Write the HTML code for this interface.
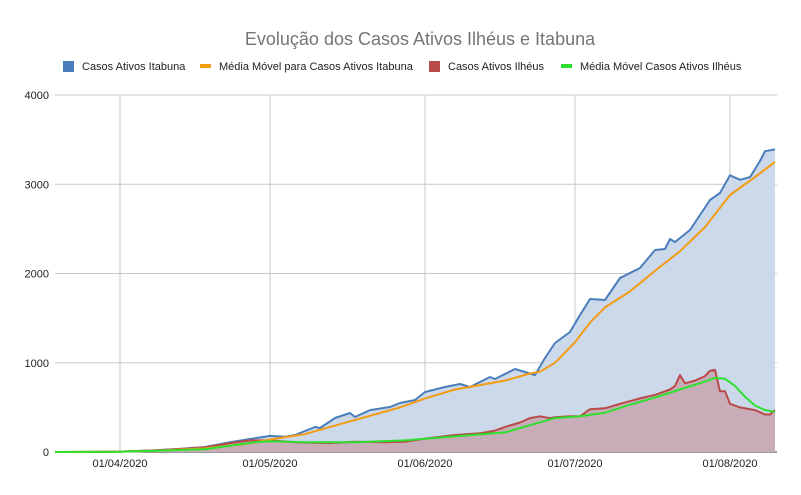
<!DOCTYPE html>
<html><head><meta charset="utf-8"><style>
body{margin:0;background:#fff;font-family:"Liberation Sans",sans-serif}
svg{display:block}
</style></head><body>
<svg id="chart" width="801" height="495">
<text x="420" y="45" text-anchor="middle" font-size="18" fill="#757575">Evolução dos Casos Ativos Ilhéus e Itabuna</text>
<g font-size="11" fill="#222">
<g><rect x="63" y="61" width="11" height="11" fill="#4a7ebb"/><text x="82" y="70">Casos Ativos Itabuna</text></g>
<g><rect x="200" y="64" width="11" height="4" fill="#f39c12"/><text x="219" y="70">Média Móvel para Casos Ativos Itabuna</text></g>
<g><rect x="429" y="61" width="11" height="11" fill="#b94a48"/><text x="448" y="70">Casos Ativos Ilhéus</text></g>
<g><rect x="561" y="64" width="11" height="4" fill="#2ee02e"/><text x="580" y="70">Média Móvel Casos Ativos Ilhéus</text></g>
</g>
<g id="grid"></g><g id="marks"></g><g id="axes"></g>
</svg>
<script>
const yTicks=[0,1000,2000,3000,4000];
const xTickLabels=["01/04/2020","01/05/2020","01/06/2020","01/07/2020","01/08/2020"];
const xTickDays=[13,43,74,104,135];
// day index 0 = 19/03/2020
const itabunaDays=[0,8,13,20,25,30,35,39,43,46,48,52,53,56,59,60,63,67,69,72,74,78,81,83,87,88,92,94,96,98,100,103,105,107,110,113,117,120,122,123,124,127,131,133,135,137,139,141,142,144];
const itabunaVals=[0,0,5,20,35,56,110,146,180,170,190,280,269,381,437,392,470,504,549,583,672,728,762,728,840,818,930,896,863,1053,1221,1345,1535,1714,1703,1950,2062,2263,2274,2387,2353,2487,2823,2902,3100,3050,3080,3260,3370,3390];
const itabunaMMDays=[0,13,20,30,38,43,50,60,69,74,80,90,95,97,100,104,107,110,115,120,125,130,135,140,144];
const itabunaMMVals=[0,3,15,40,90,140,200,360,500,600,700,800,880,900,1000,1230,1450,1620,1800,2030,2250,2520,2880,3080,3250];
const ilheusDays=[0,13,20,30,35,39,43,48,55,60,66,70,74,80,85,88,90,93,95,97,99,100,103,105,107,110,113,117,120,123,124,125,126,128,130,131,132,133,134,135,137,140,142,143,144];
const ilheusVals=[0,4,18,50,100,130,130,110,100,115,110,115,150,190,210,240,280,330,380,400,380,390,400,400,480,490,540,600,640,700,740,860,770,800,850,910,920,680,680,540,500,470,420,420,470];
const ilheusMMDays=[0,13,20,30,35,40,43,50,60,70,80,90,95,100,105,110,115,120,125,130,132,134,136,138,140,142,144];
const ilheusMMVals=[0,3,15,30,70,110,120,110,110,130,175,220,300,380,400,440,530,610,700,790,830,820,740,620,520,470,450];

const X0=55,PX=5,Y0=452,YS=357/4000,XEND=777;
const xs=d=>X0+d*PX, ys=v=>Y0-v*YS;
const NS="http://www.w3.org/2000/svg";
function mk(tag,parent,attrs){const e=document.createElementNS(NS,tag);for(const k in attrs)e.setAttribute(k,attrs[k]);parent.appendChild(e);return e;}
const grid=document.getElementById('grid'),marks=document.getElementById('marks'),axes=document.getElementById('axes');
yTicks.forEach(t=>{
  const l=mk('line',grid,{x1:X0,x2:XEND,y1:ys(t),y2:ys(t),stroke:t===0?'#333':'#c8c8c8','stroke-width':1});
  
  
  const tx=mk('text',axes,{x:49,y:ys(t)+4,'text-anchor':'end','font-size':11,fill:'#222'});tx.textContent=t;
  
  
});
xTickDays.forEach((d,i)=>{
  const l=mk('line',grid,{x1:xs(d),x2:xs(d),y1:95,y2:Y0,stroke:'#c8c8c8','stroke-width':1});
  
  
  const tx=mk('text',axes,{x:xs(d),y:467,'text-anchor':'middle','font-size':11,fill:'#222'});tx.textContent=xTickLabels[i];
  
  
});
function pts(days,vals){return days.map((d,i)=>xs(d).toFixed(1)+','+ys(vals[i]).toFixed(1)).join(' ');}
function area(days,vals,fill,name){
  const p=pts(days,vals)+' '+xs(days[days.length-1])+','+Y0+' '+xs(days[0])+','+Y0;
  const e=mk('polygon',marks,{points:p,fill:fill});
  
  
}
function line(days,vals,col,name){
  const e=mk('polyline',marks,{points:pts(days,vals),fill:'none',stroke:col,'stroke-width':2,'stroke-linejoin':'round'});
  
  
}
area(itabunaDays,itabunaVals,'#cbd9eb','itabuna-area');
area(ilheusDays,ilheusVals,'#c8adb8','ilheus-area');
line(itabunaDays,itabunaVals,'#4a7ebb','itabuna-line');
line(ilheusDays,ilheusVals,'#b94a48','ilheus-line');
line(itabunaMMDays,itabunaMMVals,'#f39c12','itabuna-moving-average');
line(ilheusMMDays,ilheusMMVals,'#2ee02e','ilheus-moving-average');
</script>
</body></html>
